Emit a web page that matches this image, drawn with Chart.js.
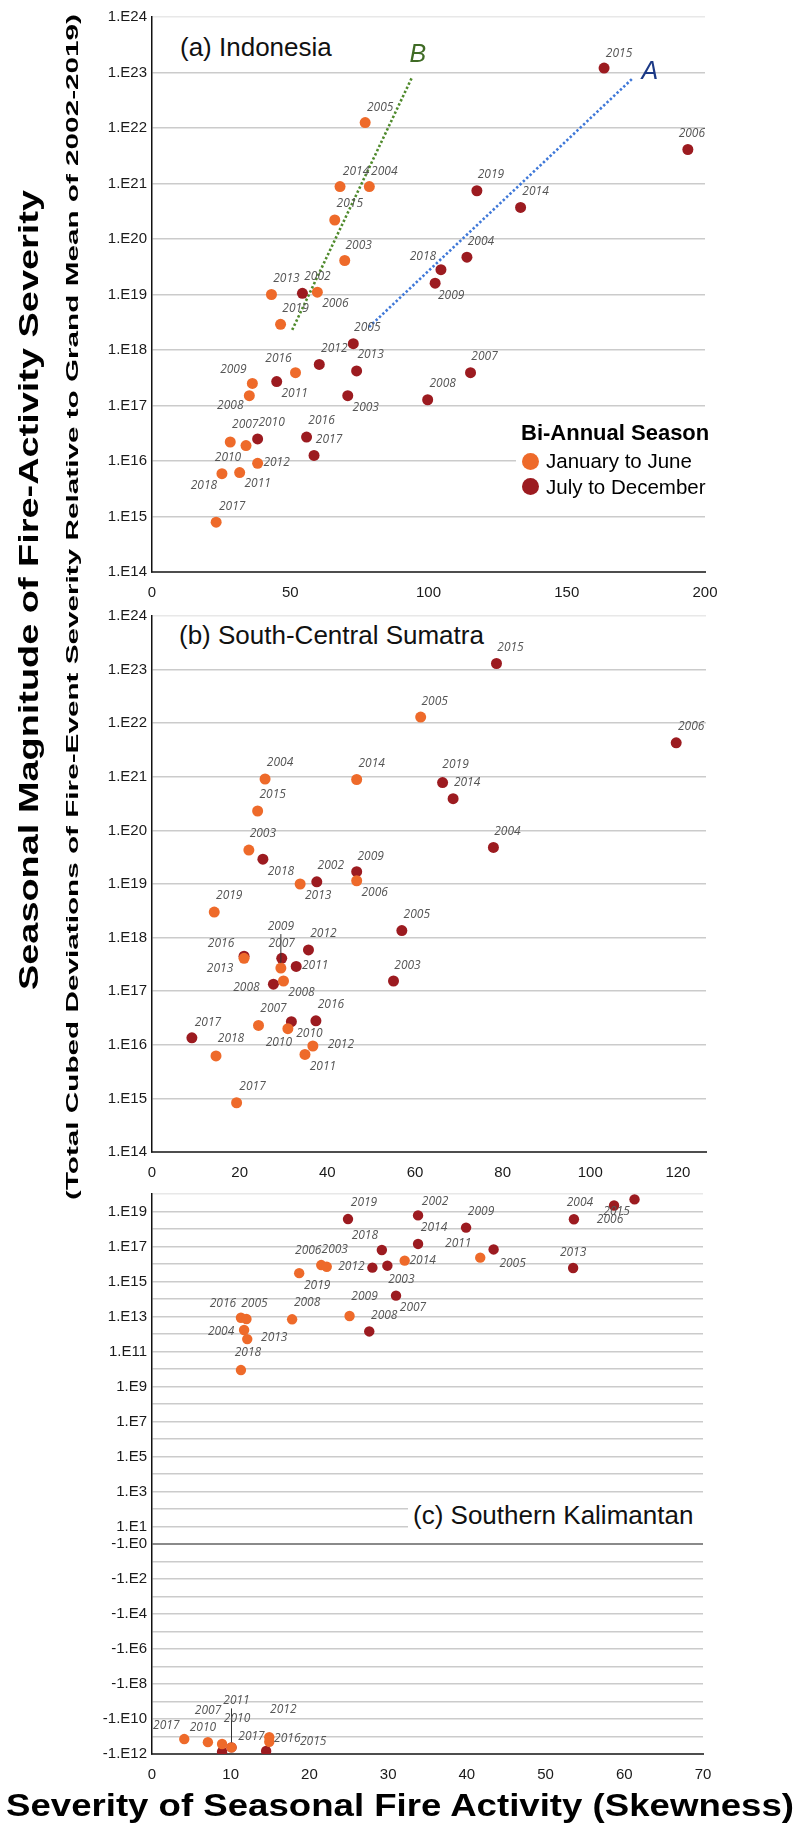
<!DOCTYPE html>
<html>
<head>
<meta charset="utf-8">
<script src="https://cdn.jsdelivr.net/npm/chart.js@4.4.1/dist/chart.umd.min.js"></script>
<style>
  html, body { margin: 0; padding: 0; background: #fff; }
  body { width: 800px; height: 1825px; position: relative; overflow: hidden;
         font-family: "Liberation Sans", Arial, sans-serif; color: #000; }
  canvas { position: absolute; left: 0; }
  svg.titles { position: absolute; left: 0; top: 0; }
  svg.titles text { font-family: "Liberation Sans", Arial, sans-serif; font-weight: bold; fill: #000; }
  .ptitle { position: absolute; font-size: 26px; line-height: 32px; background: #fff;
            white-space: nowrap; color: #111; }
  .legend { position: absolute; background: #fff; }
  .legend .lt { position: absolute; font-weight: bold; font-size: 22px; white-space: nowrap; }
  .legend .li { position: absolute; font-size: 20.5px; white-space: nowrap; }
  .legend .dot { position: absolute; width: 17px; height: 17px; border-radius: 50%; }
</style>
</head>
<body>
<canvas id="chartA" width="800" height="600" style="top:0px"></canvas>
<canvas id="chartB" width="800" height="584" style="top:596px"></canvas>
<canvas id="chartC" width="800" height="600" style="top:1180px"></canvas>

<svg class="titles" width="800" height="1825" viewBox="0 0 800 1825">
  <text transform="translate(29,590) rotate(-90)" text-anchor="middle" dominant-baseline="central"
        font-size="27" textLength="800" lengthAdjust="spacingAndGlyphs">Seasonal Magnitude of Fire-Activity Severity</text>
  <text transform="translate(72,607) rotate(-90)" text-anchor="middle" dominant-baseline="central"
        font-size="17" textLength="1186" lengthAdjust="spacingAndGlyphs">(Total Cubed Deviations of Fire-Event Severity Relative to Grand Mean of 2002-2019)</text>
  <text x="400" y="1805" text-anchor="middle" dominant-baseline="central"
        font-size="32" textLength="788" lengthAdjust="spacingAndGlyphs">Severity of Seasonal Fire Activity (Skewness)</text>
</svg>

<div class="ptitle" style="left:178px; top:31px; padding:0 2px;">(a) Indonesia</div>
<div class="ptitle" style="left:177px; top:619px; padding:0 2px;">(b) South-Central Sumatra</div>
<div class="ptitle" style="left:408px; top:1499px; width:294px; padding-left:5px;">(c) Southern Kalimantan</div>

<div class="legend" style="left:516px; top:418px; width:189px; height:84px;">
  <div class="lt" style="left:5px; top:2px;">Bi-Annual Season</div>
  <div class="dot" style="left:5.5px; top:34.5px; background:#EE6A2A;"></div>
  <div class="li" style="left:30px; top:31px;">January to June</div>
  <div class="dot" style="left:5.5px; top:60px; background:#9C1B20;"></div>
  <div class="li" style="left:30px; top:56.5px;">July to December</div>
</div>

<script>
// ---------- (a) Indonesia ----------
const yearsA_JanJun = [2005, 2014, 2004, 2015, 2003, 2013, 2006, 2019, 2016, 2009, 2008, 2007, 2010, 2018, 2011, 2012, 2017];
const skewA_JanJun  = [77.1, 68.0, 78.6, 66.1, 69.7, 43.2, 59.8, 46.5, 51.9, 36.3, 35.2, 28.3, 34.0, 25.3, 31.7, 38.2, 23.2];
const magA_JanJun   = [1.25e22, 8.8e20, 8.8e20, 2.2e20, 4.1e19, 1.0e19, 1.1e19, 2.9e18, 3.9e17, 2.5e17, 1.5e17, 2.2e16, 1.9e16, 5.9e15, 6.2e15, 9.1e15, 7.9e14];

const yearsA_JulDec = [2015, 2006, 2019, 2014, 2004, 2018, 2009, 2002, 2005, 2012, 2013, 2011, 2003, 2008, 2007, 2010, 2016, 2017];
const skewA_JulDec  = [163.5, 193.8, 117.5, 133.3, 113.9, 104.5, 102.4, 54.4, 72.8, 60.5, 74.0, 45.1, 70.8, 99.7, 115.2, 38.2, 55.9, 58.6];
const magA_JulDec   = [1.2e23, 4.1e21, 7.4e20, 3.7e20, 4.7e19, 2.8e19, 1.6e19, 1.05e19, 1.3e18, 5.5e17, 4.2e17, 2.7e17, 1.5e17, 1.27e17, 3.9e17, 2.5e16, 2.7e16, 1.26e16];

// trend lines drawn in panel (a)
const trendA_skew = [78.5, 173.9];
const trendA_mag  = [2.6e18, 7.9e22];
const trendB_skew = [50.7, 94.0];
const trendB_mag  = [2.3e18, 8.1e22];

// ---------- (b) South-Central Sumatra ----------
const yearsB_JanJun = [2005, 2004, 2014, 2015, 2003, 2013, 2006, 2019, 2016, 2009, 2008, 2007, 2010, 2012, 2011, 2018, 2017];
const skewB_JanJun  = [61.3, 25.8, 46.7, 24.1, 22.1, 33.8, 46.7, 14.2, 21.0, 29.4, 30.0, 24.3, 31.0, 36.7, 34.9, 14.6, 19.3];
const magB_JanJun   = [1.3e22, 9.1e20, 8.9e20, 2.3e20, 4.3e19, 1.0e19, 1.15e19, 3.0e18, 4.1e17, 2.7e17, 1.55e17, 2.3e16, 2.0e16, 9.5e15, 6.6e15, 6.2e15, 8.3e14];

const yearsB_JulDec = [2015, 2006, 2019, 2014, 2004, 2018, 2002, 2009, 2005, 2013, 2007, 2011, 2012, 2008, 2003, 2010, 2016, 2017];
const skewB_JulDec  = [78.6, 119.6, 66.3, 68.7, 77.9, 25.3, 37.6, 46.7, 57.0, 21.0, 29.6, 32.9, 35.7, 27.7, 55.1, 31.8, 37.4, 9.1];
const magB_JulDec   = [1.3e23, 4.3e21, 7.8e20, 3.9e20, 4.8e19, 2.9e19, 1.1e19, 1.7e19, 1.35e18, 4.5e17, 4.1e17, 2.9e17, 5.9e17, 1.35e17, 1.55e17, 2.7e16, 2.8e16, 1.35e16];

// ---------- (c) Southern Kalimantan (signed magnitudes) ----------
const yearsC_JanJun = [2014, 2019, 2006, 2003, 2008, 2016, 2005, 2004, 2013, 2018, 2009, 2011, 2017, 2010, 2007, 2011, 2012, 2016];
const skewC_JanJun  = [32.1, 18.7, 21.5, 22.2, 17.8, 11.3, 12.0, 11.7, 12.1, 11.3, 25.1, 41.7, 4.1, 7.1, 8.9, 10.1, 14.9, 14.9];
const magC_JanJun   = [1.55e16, 3.0e15, 8.7e15, 7.0e15, 6.9e12, 8.5e12, 7.2e12, 1.7e12, 5.1e11, 8.7e9, 1.07e13, 2.3e16,
                       -1.4e11, -2.1e11, -2.7e11, -4.2e11, -1.1e11, -2.0e11];

const yearsC_JulDec = [2019, 2002, 2014, 2018, 2012, 2003, 2007, 2008, 2009, 2004, 2006, 2015, 2005, 2013, 2010, 2017, 2015];
const skewC_JulDec  = [24.9, 33.8, 33.8, 29.2, 28.0, 29.9, 31.0, 27.6, 39.9, 53.6, 58.7, 61.3, 43.4, 53.5, 8.9, 10.1, 14.5];
const magC_JulDec   = [3.7e18, 6.0e18, 1.4e17, 6.3e16, 6.2e15, 8.0e15, 1.55e14, 1.4e12, 1.2e18, 3.6e18, 2.2e19, 4.9e19, 6.8e16, 5.9e15,
                       -7.4e11, -4.2e11, -6.7e11];

// axis tick exponents
const logExponentsAB = [14, 15, 16, 17, 18, 19, 20, 21, 22, 23, 24];
const skewTicksA = [0, 50, 100, 150, 200];
const skewTicksB = [0, 20, 40, 60, 80, 100, 120];
const skewTicksC = [0, 10, 20, 30, 40, 50, 60, 70];

// ---------- year-label placement (pixel nudges relative to each dot; third entry = leader line) ----------
const tagA_JanJun = [[15,-15],[16,-15],[15,-15],[15,-16],[14,-15],[15,-16],[18,11],[15,-16],[-17,-14],[-19,-14],[-19,10],[15,-17],[-18,12],[-18,12],[18,11],[19,-1],[16,-16]];
const tagA_JulDec = [[15,-15],[4,-16],[14,-16],[15,-16],[14,-16],[-18,-13],[16,12],[15,-17],[14,-16],[15,-16],[14,-16],[18,12],[18,12],[15,-16],[14,-16],[14,-16],[15,-16],[15,-16]];
const tagB_JanJun = [[14,-16],[15,-16],[15,-16],[15,-16],[14,-16],[18,12],[18,12],[15,-16],[-23,-15],[0,-42,1],[18,12],[15,-17],[-9,14],[28,-1],[18,12],[15,-17],[16,-16]];
const tagB_JulDec = [[14,-16],[15,-16],[13,-18],[14,-16],[14,-16],[18,12],[14,-16],[14,-15],[15,-16],[-24,12],[0,-15],[19,-1],[15,-16],[-27,3],[14,-15],[18,12],[15,-16],[16,-15]];
const tagC_JanJun = [[18,0],[18,12],[-13,-14],[8,-17],[15,-17],[-18,-14],[8,-15],[-23,2],[27,-2],[7,-17],[15,-19],[-22,-14],[-18,-13],[-5,-15],[-14,-33],[5,-47,1],[14,-28],[18,-3]];
const tagC_JulDec = [[16,-16],[17,-14],[16,-16],[-17,-14],[-21,-1],[14,14],[17,12],[15,-16],[15,-16],[6,-17],[-4,14],[-18,12],[19,14],[0,-15],[15,-33],[20,-11],[47,-9]];

const ORANGE = '#EE6A2A';
const DARKRED = '#9C1B20';
const FONT = '"Liberation Sans", Arial, sans-serif';

Chart.defaults.font.family = FONT;
Chart.defaults.color = '#222';

const signedLog = v => (v > 0 ? Math.log10(v) : -Math.log10(-v));

function points(xs, ys, f) {
  return xs.map((x, i) => ({ x: x, y: f ? f(ys[i]) : ys[i] }));
}

// Year tags, trend-line letters and leader lines
const annotate = {
  id: 'annotate',
  afterDatasetsDraw(chart) {
    const ctx = chart.ctx;
    chart.data.datasets.forEach((ds, i) => {
      const meta = chart.getDatasetMeta(i);
      ctx.save();
      if (ds.years) {
        ctx.font = 'italic 12px "Open Sans", "DejaVu Sans", sans-serif';
        ctx.fillStyle = '#555';
        ctx.textAlign = 'center';
        ctx.textBaseline = 'middle';
        meta.data.forEach((pt, j) => {
          const off = ds.tags[j];
          const tx = pt.x + off[0], ty = pt.y + off[1];
          if (off[2]) {
            ctx.strokeStyle = '#333';
            ctx.lineWidth = 1;
            ctx.beginPath();
            ctx.moveTo(pt.x, ty + 8);
            ctx.lineTo(pt.x, pt.y - 5);
            ctx.stroke();
          }
          ctx.fillText(String(ds.years[j]), tx, ty);
        });
      }
      if (ds.letter) {
        const end = meta.data[meta.data.length - 1];
        ctx.font = 'italic 25px ' + FONT;
        ctx.fillStyle = ds.letterColor;
        ctx.textAlign = 'center';
        ctx.textBaseline = 'middle';
        ctx.fillText(ds.letter, end.x + ds.letterOffset[0], end.y + ds.letterOffset[1]);
      }
      ctx.restore();
    });
  }
};

function seriesSet(xs, ys, years, tags, color, f) {
  return {
    data: points(xs, ys, f),
    years: years,
    tags: tags,
    backgroundColor: color,
    borderWidth: 0,
    pointRadius: 5.5,
    pointHoverRadius: 5.5
  };
}

function trendSet(xs, ys, color, letter, letterColor, letterOffset) {
  return {
    data: points(xs, ys),
    showLine: true,
    borderColor: color,
    borderWidth: 2.6,
    borderDash: [2.4, 2.2],
    pointRadius: 0,
    pointHoverRadius: 0,
    letter: letter,
    letterColor: letterColor,
    letterOffset: letterOffset
  };
}

function xScale(maxV, ticks, axisH) {
  return {
    type: 'linear',
    min: 0,
    max: maxV,
    afterBuildTicks: s => { s.ticks = ticks.map(v => ({ value: v })); },
    afterFit: s => { s.height = axisH; },
    grid: { display: false },
    border: { display: true, color: '#4d4d4d', width: 2 },
    ticks: { font: { size: 15 }, color: '#1a1a1a', padding: 4, autoSkip: false, maxRotation: 0 }
  };
}

function logYScale() {
  const top = Number('1e24');
  return {
    type: 'logarithmic',
    min: Number('1e14'),
    max: top,
    afterBuildTicks: s => { s.ticks = logExponentsAB.map(e => ({ value: Number('1e' + e) })); },
    afterFit: s => { s.width = 152; },
    grid: {
      drawTicks: false,
      lineWidth: 1.5,
      color: c => (c.tick && c.tick.value >= top * 0.999 ? '#e8e8e8' : '#cbcbcb')
    },
    border: { display: true, color: '#111', width: 1.5 },
    ticks: {
      font: { size: 15 }, color: '#1a1a1a', padding: 5, autoSkip: false,
      callback: v => '1.E' + Math.round(Math.log10(v))
    }
  };
}

function baseOptions(padTop, padRight) {
  return {
    responsive: false,
    animation: false,
    layout: { padding: { left: 0, right: padRight, top: padTop, bottom: 0 } },
    plugins: { legend: { display: false }, tooltip: { enabled: false } },
    events: []
  };
}

// (a)
new Chart(document.getElementById('chartA'), {
  type: 'scatter',
  data: {
    datasets: [
      seriesSet(skewA_JanJun, magA_JanJun, yearsA_JanJun, tagA_JanJun, ORANGE),
      seriesSet(skewA_JulDec, magA_JulDec, yearsA_JulDec, tagA_JulDec, DARKRED),
      trendSet(trendB_skew, trendB_mag, '#4f8a2c', 'B', '#3f6b25', [6, -23]),
      trendSet(trendA_skew, trendA_mag, '#3f78d8', 'A', '#1c3a86', [17, -6])
    ]
  },
  options: Object.assign(baseOptions(17, 95), {
    scales: { x: xScale(200, skewTicksA, 28), y: logYScale() }
  }),
  plugins: [annotate]
});

// (b)
new Chart(document.getElementById('chartB'), {
  type: 'scatter',
  data: {
    datasets: [
      seriesSet(skewB_JanJun, magB_JanJun, yearsB_JanJun, tagB_JanJun, ORANGE),
      seriesSet(skewB_JulDec, magB_JulDec, yearsB_JulDec, tagB_JulDec, DARKRED)
    ]
  },
  options: Object.assign(baseOptions(20, 94), {
    scales: { x: xScale(126.4, skewTicksB, 28), y: logYScale() }
  }),
  plugins: [annotate]
});

// (c) signed-log magnitude axis: positive decades above zero, negative below
const cTop = 20, cBottom = -12;
const cTicks = [];
for (let t = cBottom; t <= cTop; t++) cTicks.push(t);
new Chart(document.getElementById('chartC'), {
  type: 'scatter',
  data: {
    datasets: [
      Object.assign(seriesSet(skewC_JanJun, magC_JanJun, yearsC_JanJun, tagC_JanJun, ORANGE, signedLog), { pointRadius: 5.2 }),
      Object.assign(seriesSet(skewC_JulDec, magC_JulDec, yearsC_JulDec, tagC_JulDec, DARKRED, signedLog), { pointRadius: 5.2 })
    ]
  },
  options: Object.assign(baseOptions(14, 97), {
    scales: {
      x: xScale(70, skewTicksC, 26),
      y: {
        type: 'linear',
        min: cBottom,
        max: cTop,
        afterBuildTicks: s => { s.ticks = cTicks.map(v => ({ value: v })); },
        afterFit: s => { s.width = 152; },
        grid: {
          drawTicks: false,
          lineWidth: c => (c.tick && c.tick.value === 0 ? 2 : 1.5),
          color: c => {
            if (!c.tick) return '#cbcbcb';
            if (c.tick.value === 0) return '#8a8a8a';
            if (c.tick.value === cTop) return '#e8e8e8';
            return '#cbcbcb';
          }
        },
        border: { display: true, color: '#111', width: 1.5 },
        ticks: {
          font: { size: 15 }, color: '#1a1a1a', padding: 5, autoSkip: false,
          callback: v => {
            if (v > 0 && v % 2 === 1) return '1.E' + v;
            if (v <= 0 && v % 2 === 0) return '-1.E' + (-v);
            return '';
          }
        }
      }
    }
  }),
  plugins: [annotate]
});
</script>
</body>
</html>
